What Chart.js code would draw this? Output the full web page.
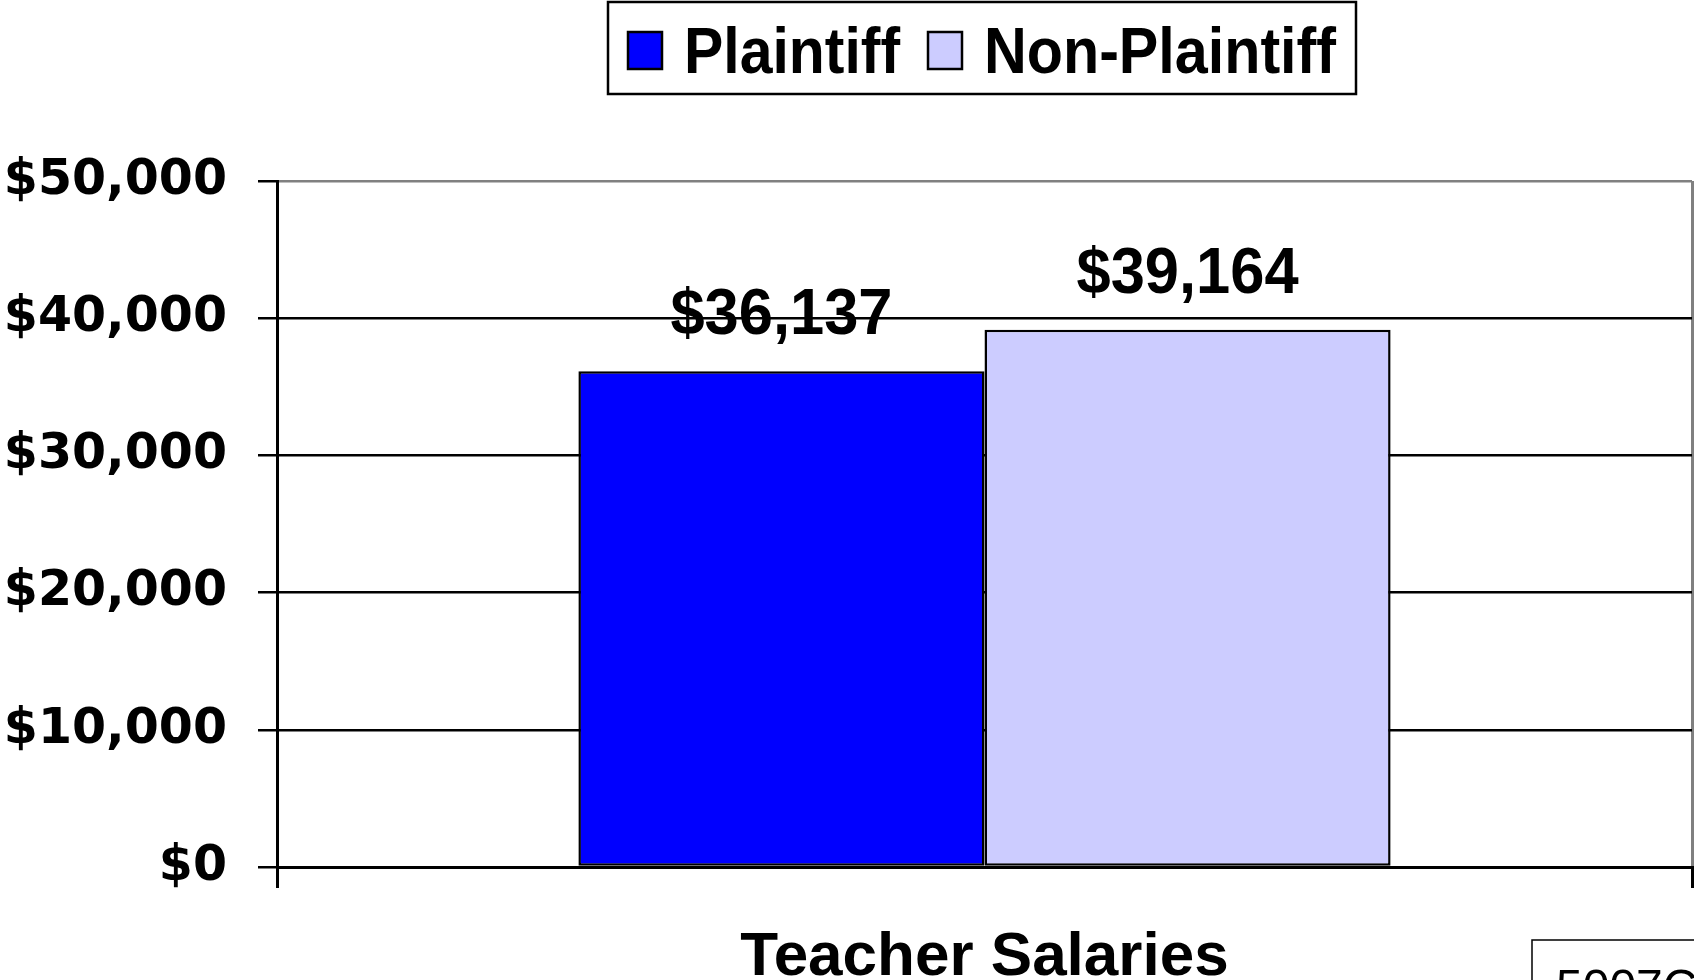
<!DOCTYPE html>
<html>
<head>
<meta charset="utf-8">
<script src="https://cdn.jsdelivr.net/npm/chart.js@4.4.0/dist/chart.umd.min.js"></script>
<style>
  html, body { margin: 0; padding: 0; background: #ffffff; }
  #wrap { width: 1694px; height: 980px; position: relative; overflow: hidden; }
</style>
</head>
<body>
<div id="wrap"><canvas id="chart" width="1694" height="980"></canvas></div>
<script>
// ---- data ----
var categories = ['Teacher Salaries'];
var seriesNames = ['Plaintiff', 'Non-Plaintiff'];
var plaintiffValues = [36137];
var nonPlaintiffValues = [39164];
var seriesColors = ['#0000FF', '#CCCCFF'];
var yTicks = [0, 10000, 20000, 30000, 40000, 50000];
var footnote = '5007C';

function money(v) {
    return '$' + Number(v).toLocaleString('en-US');
}

// value labels above each bar
var valueLabels = {
    id: 'valueLabels',
    afterDatasetsDraw: function (chart) {
        var ctx = chart.ctx;
        ctx.save();
        ctx.fillStyle = '#000';
        ctx.textAlign = 'center';
        ctx.textBaseline = 'alphabetic';
        ctx.font = 'bold 64px "Liberation Sans", Arial, sans-serif';
        chart.data.datasets.forEach(function (ds, i) {
            chart.getDatasetMeta(i).data.forEach(function (bar, j) {
                ctx.fillText(money(ds.data[j]), bar.x, bar.y - 37, 222);
            });
        });
        ctx.restore();
    }
};

// boxed legend centred over the plot area, plus the footnote box
var boxedLegend = {
    id: 'boxedLegend',
    afterDraw: function (chart) {
        var ctx = chart.ctx;
        var area = chart.chartArea;
        ctx.save();
        ctx.font = 'bold 64px "Liberation Sans", Arial, sans-serif';
        ctx.textBaseline = 'alphabetic';
        ctx.textAlign = 'left';

        var sw = 34, sh = 37, gapText = 22, gapItem = 28, padX = 20;
        var maxW = [216, 352];
        var total = padX * 2;
        seriesNames.forEach(function (n, i) {
            total += sw + gapText + maxW[i] + (i < seriesNames.length - 1 ? gapItem : 0);
        });
        var cx = (area.left + area.right) / 2;
        var bx = Math.round(cx - total / 2) - 3;
        ctx.lineWidth = 2.5;
        ctx.strokeStyle = '#000';
        ctx.fillStyle = '#fff';
        ctx.fillRect(bx, 2, total, 92);
        ctx.strokeRect(bx, 2, total, 92);

        var x = bx + padX;
        seriesNames.forEach(function (n, i) {
            ctx.fillStyle = seriesColors[i];
            ctx.fillRect(x, 32, sw, sh);
            ctx.strokeRect(x, 32, sw, sh);
            x += sw + gapText;
            ctx.fillStyle = '#000';
            ctx.fillText(n, x, 73, maxW[i]);
            x += maxW[i] + gapItem;
        });

        // footnote box, partly outside the picture
        ctx.lineWidth = 1.5;
        ctx.strokeRect(1532, 940, 300, 100);
        ctx.font = '48px "Liberation Sans", Arial, sans-serif';
        ctx.fillStyle = '#000';
        ctx.fillText(footnote, 1556, 1003);
        ctx.restore();
    }
};

new Chart(document.getElementById('chart'), {
    type: 'bar',
    data: {
        labels: categories,
        datasets: [{
            label: seriesNames[0],
            data: plaintiffValues,
            backgroundColor: seriesColors[0],
            borderColor: '#000',
            borderWidth: 2.5,
            borderSkipped: false
        }, {
            label: seriesNames[1],
            data: nonPlaintiffValues,
            backgroundColor: seriesColors[1],
            borderColor: '#000',
            borderWidth: 2.5,
            borderSkipped: false
        }]
    },
    options: {
        responsive: false,
        animation: false,
        layout: { padding: { top: 181, right: 2, left: 0, bottom: 0 } },
        datasets: { bar: { categoryPercentage: 0.574, barPercentage: 1.0 } },
        plugins: {
            legend: { display: false },
            tooltip: { enabled: false }
        },
        scales: {
            x: {
                afterFit: function (s) { s.height = 113; },
                grid: {
                    offset: true,
                    color: function (c) { return c.index === 0 ? '#000' : '#808080'; },
                    tickColor: '#000',
                    lineWidth: 3,
                    tickLength: 21
                },
                border: { color: '#000', width: 3 },
                ticks: {
                    color: '#000',
                    padding: 33,
                    font: { family: '"Liberation Sans", Arial, sans-serif', size: 62, weight: 'bold' }
                }
            },
            y: {
                min: yTicks[0],
                max: yTicks[yTicks.length - 1],
                afterFit: function (s) { s.width = 277; },
                afterBuildTicks: function (s) {
                    s.ticks = yTicks.map(function (v) { return { value: v }; });
                },
                grid: {
                    color: function (c) {
                        return c.tick && c.tick.value === yTicks[yTicks.length - 1] ? '#808080' : '#000';
                    },
                    tickColor: '#000',
                    lineWidth: 2.5,
                    tickLength: 19
                },
                border: { color: '#000', width: 3 },
                ticks: {
                    color: '#000',
                    padding: 31,
                    font: { family: '"DejaVu Sans", Verdana, sans-serif', size: 49, weight: 'bold' },
                    callback: function (v) { return money(v); }
                }
            }
        }
    },
    plugins: [valueLabels, boxedLegend]
});
</script>
</body>
</html>
